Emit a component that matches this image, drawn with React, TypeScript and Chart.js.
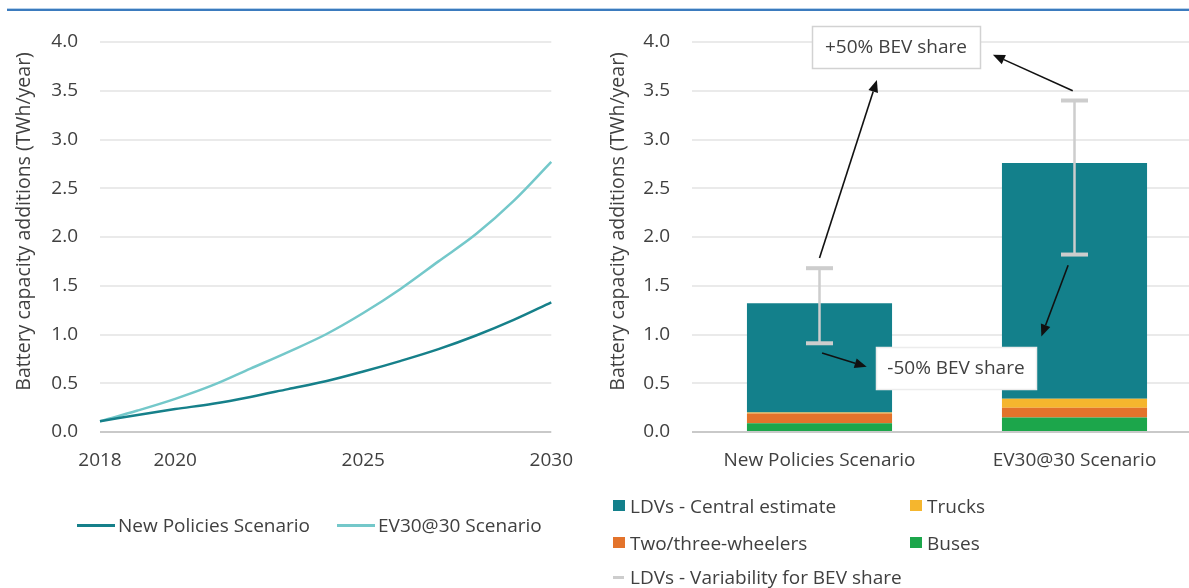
import React, { useEffect, useRef } from 'react';
import { Chart, registerables } from 'chart.js';

Chart.register(...registerables);

// ---- Left panel: battery capacity additions by year ----
const years = ['2018', '2019', '2020', '2021', '2022', '2023', '2024', '2025', '2026', '2027', '2028', '2029', '2030'];
const shownYears = ['2018', '2020', '2025', '2030'];
const newPolicies = [0.11, 0.175, 0.235, 0.29, 0.36, 0.44, 0.52, 0.62, 0.73, 0.85, 0.99, 1.15, 1.33];
const ev3030 = [0.11, 0.22, 0.34, 0.48, 0.65, 0.82, 1.0, 1.22, 1.47, 1.75, 2.03, 2.37, 2.77];
const lineLabels = ['New Policies Scenario', 'EV30@30 Scenario'];

// ---- Right panel: 2030 additions by segment ----
const scenarios = ['New Policies Scenario', 'EV30@30 Scenario'];
const buses = [0.09, 0.15];
const twoThreeWheelers = [0.1, 0.1];
const trucks = [0.01, 0.09];
const ldvCentral = [1.12, 2.42];
const ldvLow = [0.91, 1.82];
const ldvHigh = [1.68, 3.4];

const yTickStep = 0.5;
const yMax = 4;

const FONT = '"Open Sans", "Noto Sans", sans-serif';
const TEXT = '#404040';
const DARK_TEAL = '#16808A';
const LIGHT_TEAL = '#74C8CA';
const C_LDV = '#13808B';
const C_TRUCK = '#F5B62E';
const C_TWO = '#E3732B';
const C_BUS = '#1CA64B';
const C_ERR = '#CDCDCD';
const AXIS_TITLE = 'Battery capacity additions (TWh/year)';

const font = { family: FONT, size: 19 };

const yAxis = (axisWidth: number) => ({
  min: 0,
  max: yMax,
  ticks: {
    stepSize: yTickStep,
    padding: 22,
    color: TEXT,
    font,
    callback: (v: any) => Number(v).toFixed(1),
  },
  grid: {
    drawTicks: false,
    lineWidth: 2,
    color: (ctx: any) => (ctx.tick && ctx.tick.value === 0 ? '#C9C9C9' : '#EAEAEA'),
  },
  border: { display: false },
  afterFit: (s: any) => {
    s.width = axisWidth;
  },
});

// rotated value-axis title, set slightly above the plot's middle
const axisTitlePlugin = (cx: number) => ({
  id: 'axisTitle',
  afterDraw(chart: any) {
    const { ctx, chartArea } = chart;
    const cy = chartArea.top + (chartArea.bottom - chartArea.top) * 0.46;
    ctx.save();
    ctx.translate(cx, cy);
    ctx.rotate(-Math.PI / 2);
    ctx.fillStyle = TEXT;
    ctx.font = `19.5px ${FONT}`;
    ctx.textAlign = 'center';
    ctx.textBaseline = 'middle';
    ctx.fillText(AXIS_TITLE, 0, 0);
    ctx.restore();
  },
});

// gray whiskers showing the BEV-share range around the LDV estimate
const errorBarPlugin = {
  id: 'bevRange',
  afterDatasetsDraw(chart: any) {
    const { ctx, scales } = chart;
    const x = scales.x;
    const y = scales.y;
    ctx.save();
    ctx.strokeStyle = C_ERR;
    ctx.fillStyle = C_ERR;
    ldvLow.forEach((lo, i) => {
      const cx = x.getPixelForValue(i);
      const yl = y.getPixelForValue(lo);
      const yh = y.getPixelForValue(ldvHigh[i]);
      ctx.lineWidth = 2.5;
      ctx.beginPath();
      ctx.moveTo(cx, yl);
      ctx.lineTo(cx, yh);
      ctx.stroke();
      ctx.fillRect(cx - 13.5, yl - 2, 27, 4);
      ctx.fillRect(cx - 13.5, yh - 2, 27, 4);
    });
    ctx.restore();
  },
};

// callout boxes and arrows for the +/-50% BEV share cases
const calloutPlugin = {
  id: 'bevCallouts',
  afterDraw(chart: any) {
    const { ctx, scales } = chart;
    const x = scales.x;
    const y = scales.y;
    const P = (i: number, v: number) => [x.getPixelForValue(i), y.getPixelForValue(v)];

    const arrows = [
      [0.0, 1.785, 0.225, 3.61],
      [0.993, 3.5, 0.68, 3.87],
      [0.975, 1.71, 0.87, 0.98],
      [0.01, 0.81, 0.185, 0.67],
    ];
    const boxes = [
      { text: '+50% BEV share', cx: 0.3, cy: 3.95, w: 168, h: 42, border: '#D2D2D2' },
      { text: '-50% BEV share', cx: 0.535, cy: 0.66, w: 160, h: 42, border: '#ECECEC' },
    ];

    ctx.save();
    ctx.strokeStyle = '#111111';
    ctx.fillStyle = '#111111';
    ctx.lineWidth = 1.6;
    arrows.forEach(([i0, v0, i1, v1]) => {
      const [x0, y0] = P(i0, v0);
      const [x1, y1] = P(i1, v1);
      const ang = Math.atan2(y1 - y0, x1 - x0);
      const hl = 12;
      const hw = 5;
      const bx = x1 - hl * Math.cos(ang);
      const by = y1 - hl * Math.sin(ang);
      ctx.beginPath();
      ctx.moveTo(x0, y0);
      ctx.lineTo(bx, by);
      ctx.stroke();
      ctx.beginPath();
      ctx.moveTo(x1, y1);
      ctx.lineTo(bx + hw * Math.sin(ang), by - hw * Math.cos(ang));
      ctx.lineTo(bx - hw * Math.sin(ang), by + hw * Math.cos(ang));
      ctx.closePath();
      ctx.fill();
    });

    boxes.forEach((b) => {
      const [cx, cy] = P(b.cx, b.cy);
      const l = Math.round(cx - b.w / 2) + 0.5;
      const t = Math.round(cy - b.h / 2) + 0.5;
      ctx.fillStyle = '#FFFFFF';
      ctx.fillRect(l, t, b.w, b.h);
      ctx.strokeStyle = b.border;
      ctx.lineWidth = 1.5;
      ctx.strokeRect(l, t, b.w, b.h);
      ctx.fillStyle = TEXT;
      ctx.font = `19px ${FONT}`;
      ctx.textAlign = 'center';
      ctx.textBaseline = 'middle';
      ctx.fillText(b.text, cx, cy + 1);
    });
    ctx.restore();
  },
};

const legendText: React.CSSProperties = {
  position: 'absolute',
  fontFamily: FONT,
  fontSize: 19,
  color: TEXT,
  lineHeight: '24px',
  whiteSpace: 'nowrap',
};

export default function App() {
  const leftRef = useRef<HTMLCanvasElement>(null);
  const rightRef = useRef<HTMLCanvasElement>(null);

  useEffect(() => {
    const left = new Chart(leftRef.current as HTMLCanvasElement, {
      type: 'line',
      data: {
        labels: years,
        datasets: [
          {
            label: lineLabels[0],
            data: newPolicies,
            borderColor: DARK_TEAL,
            borderWidth: 2.5,
            pointRadius: 0,
            tension: 0.35,
          },
          {
            label: lineLabels[1],
            data: ev3030,
            borderColor: LIGHT_TEAL,
            borderWidth: 2.5,
            pointRadius: 0,
            tension: 0.35,
          },
        ],
      },
      options: {
        responsive: false,
        animation: false,
        devicePixelRatio: 1,
        layout: { padding: { top: 42, right: 37, left: 0, bottom: 0 } },
        plugins: { legend: { display: false }, tooltip: { enabled: false } },
        scales: {
          x: {
            grid: { display: false, drawTicks: false },
            border: { display: false },
            ticks: {
              autoSkip: false,
              maxRotation: 0,
              padding: 17,
              color: TEXT,
              font,
              callback: (_v: any, i: number) => (shownYears.includes(years[i]) ? years[i] : ''),
            },
            afterFit: (s: any) => {
              s.height = 156;
            },
          },
          y: yAxis(100) as any,
        },
      },
      plugins: [axisTitlePlugin(24)],
    });

    const right = new Chart(rightRef.current as HTMLCanvasElement, {
      type: 'bar',
      data: {
        labels: scenarios,
        datasets: [
          { label: 'Buses', data: buses, backgroundColor: C_BUS },
          { label: 'Two/three-wheelers', data: twoThreeWheelers, backgroundColor: C_TWO },
          { label: 'Trucks', data: trucks, backgroundColor: C_TRUCK },
          { label: 'LDVs - Central estimate', data: ldvCentral, backgroundColor: C_LDV },
        ].map((d) => ({ ...d, categoryPercentage: 1, barPercentage: 0.569 })),
      },
      options: {
        responsive: false,
        animation: false,
        devicePixelRatio: 1,
        layout: { padding: { top: 42, right: 8, left: 0, bottom: 0 } },
        plugins: { legend: { display: false }, tooltip: { enabled: false } },
        scales: {
          x: {
            stacked: true,
            grid: { display: false, drawTicks: false },
            border: { display: false },
            ticks: { padding: 17, color: TEXT, font, maxRotation: 0 },
            afterFit: (s: any) => {
              s.height = 156;
            },
          },
          y: { ...(yAxis(102) as any), stacked: true },
        },
      },
      plugins: [errorBarPlugin, calloutPlugin, axisTitlePlugin(28)],
    });

    return () => {
      left.destroy();
      right.destroy();
    };
  }, []);

  const rightLegend = [
    { label: 'LDVs - Central estimate', color: C_LDV, x: 613, y: 506 },
    { label: 'Trucks', color: C_TRUCK, x: 910, y: 506 },
    { label: 'Two/three-wheelers', color: C_TWO, x: 613, y: 543 },
    { label: 'Buses', color: C_BUS, x: 910, y: 543 },
  ];

  return (
    <div
      style={{
        position: 'fixed',
        left: 0,
        top: 0,
        width: 1189,
        height: 588,
        overflow: 'hidden',
        background: '#FFFFFF',
      }}
    >
      <div style={{ position: 'absolute', left: 7, top: 8, width: 1182, height: 1, background: '#B7D1EA' }} />
      <div style={{ position: 'absolute', left: 7, top: 9, width: 1182, height: 2, background: '#3B7BBE' }} />
      <canvas ref={leftRef} width={590} height={588} style={{ position: 'absolute', left: 0, top: 0 }} />
      <canvas ref={rightRef} width={620} height={588} style={{ position: 'absolute', left: 590, top: 0 }} />

      {/* line legend */}
      {lineLabels.map((lab, i) => {
        const x0 = i === 0 ? 77 : 337;
        return (
          <React.Fragment key={lab}>
            <div
              style={{
                position: 'absolute',
                left: x0,
                top: 524,
                width: 38,
                height: 3,
                background: i === 0 ? DARK_TEAL : LIGHT_TEAL,
              }}
            />
            <div style={{ ...legendText, left: x0 + 41, top: 513 }}>{lab}</div>
          </React.Fragment>
        );
      })}

      {/* bar legend */}
      {rightLegend.map((it) => (
        <React.Fragment key={it.label}>
          <div
            style={{
              position: 'absolute',
              left: it.x,
              top: it.y - 6,
              width: 12,
              height: 11,
              background: it.color,
            }}
          />
          <div style={{ ...legendText, left: it.x + 17, top: it.y - 12 }}>{it.label}</div>
        </React.Fragment>
      ))}
      <div style={{ position: 'absolute', left: 613, top: 576, width: 11, height: 3, background: C_ERR }} />
      <div style={{ ...legendText, left: 630, top: 565 }}>LDVs - Variability for BEV share</div>
    </div>
  );
}
